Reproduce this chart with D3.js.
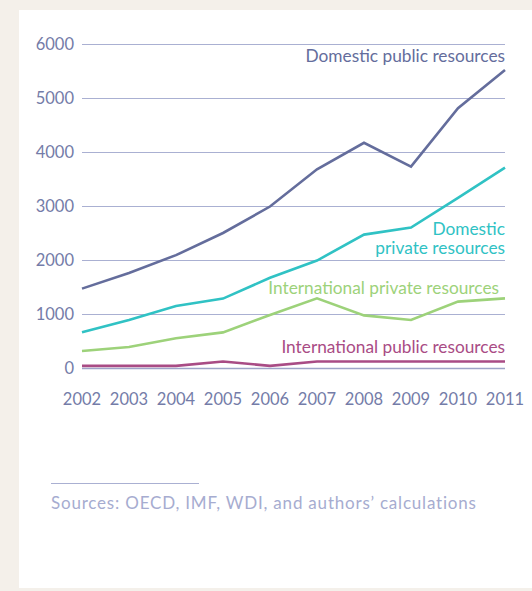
<!DOCTYPE html>
<html>
<head>
<meta charset="utf-8">
<script src="https://cdn.jsdelivr.net/npm/d3@7"></script>
<style>
  body { margin: 0; background: #f4f0ea; }
  svg { display: block; }
</style>
</head>
<body>
<div id="chart"></div>
<script>
// Resources for development, 2002-2011

const years = [2002, 2003, 2004, 2005, 2006, 2007, 2008, 2009, 2010, 2011];
const domesticPublic = [1470, 1760, 2090, 2500, 2990, 3680, 4170, 3730, 4810, 5520];
const domesticPrivate = [660, 890, 1150, 1285, 1670, 1990, 2470, 2600, 3150, 3710];
const intlPrivate = [315, 390, 550, 660, 980, 1290, 975, 890, 1230, 1290];
const intlPublic = [40, 40, 40, 120, 40, 120, 120, 120, 120, 120];
const yTicks = [0, 1000, 2000, 3000, 4000, 5000, 6000];

const series = [
    {name: "intlPublic", values: intlPublic, color: "#a94c85", label: ["International public resources"], lx: 505, ly: 353},
    {name: "intlPrivate", values: intlPrivate, color: "#9dd27a", label: ["International private resources"], lx: 499, ly: 294},
    {name: "domesticPrivate", values: domesticPrivate, color: "#30c2c4", label: ["Domestic", "private resources"], lx: 505, ly: 235},
    {name: "domesticPublic", values: domesticPublic, color: "#646d9c", label: ["Domestic public resources"], lx: 505, ly: 62}
];

const W = 532, H = 591;
const font = "Lato, 'Open Sans', sans-serif";

const svg = d3.select("#chart")
    .append("svg")
    .attr("width", W)
    .attr("height", H);

// beige frame with white panel
svg.append("rect").attr("width", W).attr("height", H).attr("fill", "#f4f0ea");
svg.append("rect")
    .attr("x", 19).attr("y", 10)
    .attr("width", W - 19).attr("height", 578)
    .attr("fill", "#ffffff");

const x = d3.scaleLinear()
    .domain([2002, 2011])
    .range([82, 505]);
const y = d3.scaleLinear()
    .domain([0, 6000])
    .range([368, 44]);

// gridlines
svg.append("g")
    .selectAll("line")
    .data(yTicks)
    .enter().append("line")
    .attr("x1", 82)
    .attr("x2", 505)
    .attr("y1", d => y(d) + 0.5)
    .attr("y2", d => y(d) + 0.5)
    .attr("stroke", d => d === 0 ? "#9ea4c8" : "#aab0d2")
    .attr("stroke-width", d => d === 0 ? 1.5 : 1);

// y tick labels
svg.append("g")
    .selectAll("text")
    .data(yTicks)
    .enter().append("text")
    .attr("x", 74)
    .attr("y", d => y(d))
    .attr("dy", "0.35em")
    .attr("text-anchor", "end")
    .attr("font-family", font)
    .attr("font-size", 16.5)
    .attr("fill", "#747ca8")
    .text(d => d);

// x tick labels
svg.append("g")
    .selectAll("text")
    .data(years)
    .enter().append("text")
    .attr("x", d => x(d))
    .attr("y", 405)
    .attr("text-anchor", "middle")
    .attr("font-family", font)
    .attr("font-size", 16.5)
    .attr("fill", "#747ca8")
    .text(d => d);

const line = d3.line()
    .x((d, i) => x(years[i]))
    .y(d => y(d));

svg.append("g")
    .selectAll("path")
    .data(series)
    .enter().append("path")
    .attr("d", d => line(d.values))
    .attr("fill", "none")
    .attr("stroke", d => d.color)
    .attr("stroke-width", 2.6)
    .attr("stroke-linejoin", "miter");

// series labels
series.forEach(s => {
    const t = svg.append("text")
        .attr("text-anchor", "end")
        .attr("font-family", font)
        .attr("font-size", 17.3)
        .attr("fill", s.color);
    s.label.forEach((l, i) => {
        t.append("tspan")
            .attr("x", s.lx)
            .attr("y", s.ly + i * 18.5)
            .text(l);
    });
});

// source note
svg.append("line")
    .attr("x1", 51).attr("x2", 199)
    .attr("y1", 483.5).attr("y2", 483.5)
    .attr("stroke", "#aab0d2")
    .attr("stroke-width", 1);
svg.append("text")
    .attr("x", 51)
    .attr("y", 509)
    .attr("font-family", font)
    .attr("font-size", 17)
    .attr("letter-spacing", 0.8)
    .attr("fill", "#a6acd0")
    .text("Sources: OECD, IMF, WDI, and authors\u2019 calculations");
</script>
</body>
</html>
